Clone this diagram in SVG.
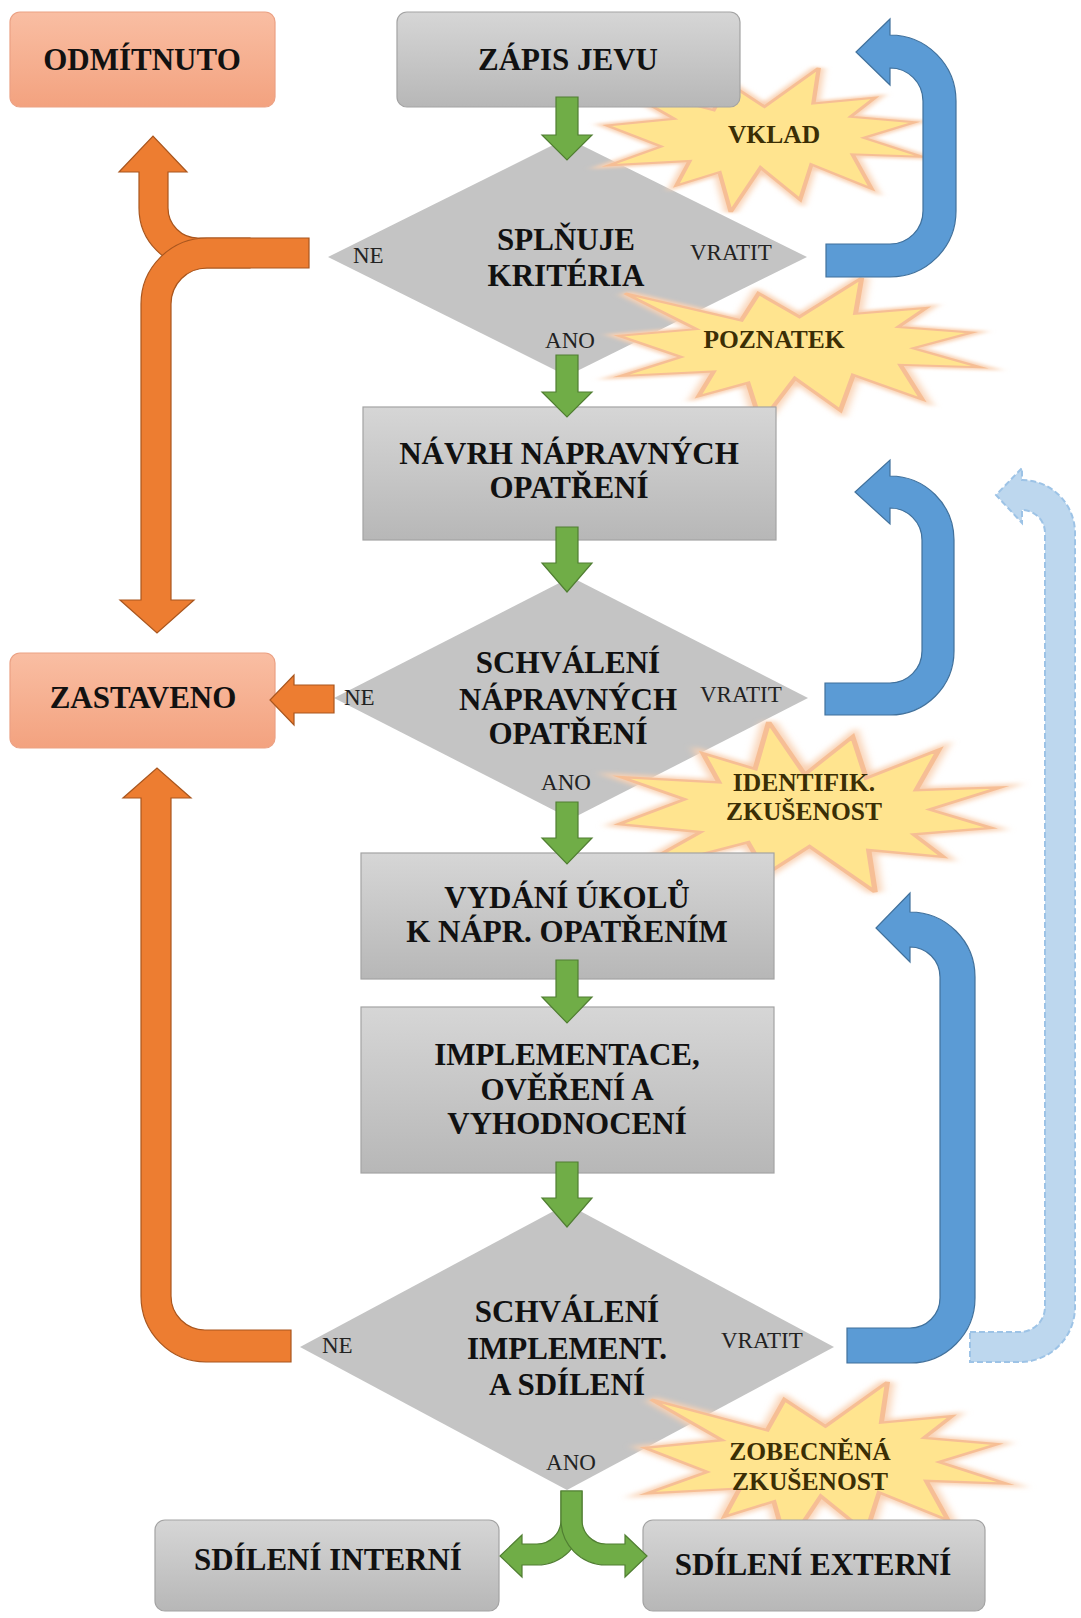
<svg xmlns="http://www.w3.org/2000/svg" xmlns:xlink="http://www.w3.org/1999/xlink" width="1081" height="1618" viewBox="0 0 1081 1618">
<defs>
<style>
.box{fill:url(#gGray);stroke:#A3A3A3;stroke-width:1.2}
.rbox{fill:url(#gSalmon);stroke:#EBA184;stroke-width:1.2}
.dia{fill:#C4C4C4}
text{font-family:'Liberation Serif',Tinos,'Times New Roman','DejaVu Serif','Noto Serif',serif}
.t{font-weight:bold;font-size:31px;fill:#111;text-anchor:middle}
.lab{font-size:23px;fill:#222}
.st{font-weight:bold;font-size:25.5px;fill:#3B2E05;text-anchor:middle}
.seal{fill:#FFE48F;stroke:#F6BE95;stroke-width:3;vector-effect:non-scaling-stroke}
.sealglow{fill:none;stroke:#F9D2B4;stroke-width:8;vector-effect:non-scaling-stroke;filter:url(#blur)}
.green{fill:#70AD47;stroke:#507E32;stroke-width:1.2}
.orange{fill:#ED7D31;stroke:#A9561E;stroke-width:1.2}
.blue{fill:#5B9BD5;stroke:#41719C;stroke-width:1.2}
.lblue{fill:#BDD7EE;stroke:#9DC3E6;stroke-width:2;stroke-dasharray:6 3}
</style>
<linearGradient id="gGray" x1="0" y1="0" x2="0" y2="1">
<stop offset="0" stop-color="#D6D6D6"/><stop offset="1" stop-color="#B7B7B7"/>
</linearGradient>
<linearGradient id="gSalmon" x1="0" y1="0" x2="0" y2="1">
<stop offset="0" stop-color="#F9BEA3"/><stop offset="1" stop-color="#F3A27F"/>
</linearGradient>
<filter id="blur" x="-20%" y="-20%" width="140%" height="140%"><feGaussianBlur stdDeviation="2.5"/></filter>
<path id="seal" d="M108 58 L145.22 0 L141.55 53.25 L183.8 44.57 L167.02 73.15 L210.97 81.37 L176.07 104.75 L216 132.9 L168.37 129.42 L181.45 180.95 L140.2 144.57 L132.47 197.37 L105.32 149.35 L84.85 216 L77.15 156.27 L47.62 176.17 L56.67 139.37 L1.35 145.87 L37.22 117.75 L0 86.15 L46.27 76.17 L3.7 22.95 L73.12 63.2 L83.52 22.95 Z"/>
</defs>
<rect width="1081" height="1618" fill="#FFFFFF"/>

<!-- decisions -->
<g id="node-splnuje-kriteria">
<polygon class="dia" points="567,138 807,257 567,376 328,257"/>
<text class="t" x="566" y="250">SPLŇUJE</text>
<text class="t" x="566" y="286">KRITÉRIA</text>
<text class="lab" x="353" y="263">NE</text>
<text class="lab" x="690" y="260">VRATIT</text>
<text class="lab" x="570" y="348" text-anchor="middle">ANO</text>
</g>
<g id="node-schvaleni-napravnych">
<polygon class="dia" points="571,577 808,698 571,819 334,698"/>
<text class="t" x="568" y="673">SCHVÁLENÍ</text>
<text class="t" x="568" y="710">NÁPRAVNÝCH</text>
<text class="t" x="568" y="744">OPATŘENÍ</text>
<text class="lab" x="344" y="705">NE</text>
<text class="lab" x="700" y="702">VRATIT</text>
<text class="lab" x="566" y="790" text-anchor="middle">ANO</text>
</g>
<g id="node-schvaleni-implement">
<polygon class="dia" points="567,1204 834,1347 567,1490 300,1347"/>
<text class="t" x="567" y="1322">SCHVÁLENÍ</text>
<text class="t" x="567" y="1359">IMPLEMENT.</text>
<text class="t" x="567" y="1395">A SDÍLENÍ</text>
<text class="lab" x="322" y="1353">NE</text>
<text class="lab" x="721" y="1348">VRATIT</text>
<text class="lab" x="571" y="1470" text-anchor="middle">ANO</text>
</g>

<!-- stars -->
<g id="star-vklad">
<use xlink:href="#seal" class="sealglow" transform="translate(607 68) scale(1.458 0.667)"/>
<use xlink:href="#seal" class="seal" transform="translate(607 68) scale(1.458 0.667)"/>
<text class="st" x="774" y="143">VKLAD</text>
</g>
<g id="star-poznatek">
<use xlink:href="#seal" class="sealglow" transform="translate(619 278) scale(1.671 0.671)"/>
<use xlink:href="#seal" class="seal" transform="translate(619 278) scale(1.671 0.671)"/>
<text class="st" x="774" y="348">POZNATEK</text>
</g>
<g id="star-identifik">
<use xlink:href="#seal" class="sealglow" transform="translate(619 892) scale(1.764 -0.787)"/>
<use xlink:href="#seal" class="seal" transform="translate(619 892) scale(1.764 -0.787)"/>
<text class="st" x="804" y="791">IDENTIFIK.</text>
<text class="st" x="804" y="820">ZKUŠENOST</text>
</g>
<g id="star-zobecnena">
<use xlink:href="#seal" class="sealglow" transform="translate(645 1382) scale(1.67 0.764)"/>
<use xlink:href="#seal" class="seal" transform="translate(645 1382) scale(1.67 0.764)"/>
<text class="st" x="810" y="1460">ZOBECNĚNÁ</text>
<text class="st" x="810" y="1490">ZKUŠENOST</text>
</g>

<!-- boxes -->
<g id="node-odmitnuto">
<rect class="rbox" x="10" y="12" width="265" height="95" rx="10"/>
<text class="t" x="142" y="70">ODMÍTNUTO</text>
</g>
<g id="node-zapis-jevu">
<rect class="box" x="397" y="12" width="343" height="95" rx="10"/>
<text class="t" x="568" y="70">ZÁPIS JEVU</text>
</g>
<g id="node-navrh">
<rect class="box" x="363" y="407" width="413" height="133"/>
<text class="t" x="569" y="464">NÁVRH NÁPRAVNÝCH</text>
<text class="t" x="569" y="498">OPATŘENÍ</text>
</g>
<g id="node-zastaveno">
<rect class="rbox" x="10" y="653" width="265" height="95" rx="10"/>
<text class="t" x="143" y="708">ZASTAVENO</text>
</g>
<g id="node-vydani">
<rect class="box" x="361" y="853" width="413" height="126"/>
<text class="t" x="567" y="908">VYDÁNÍ ÚKOLŮ</text>
<text class="t" x="567" y="942">K NÁPR. OPATŘENÍM</text>
</g>
<g id="node-implementace">
<rect class="box" x="361" y="1007" width="413" height="166"/>
<text class="t" x="567" y="1065">IMPLEMENTACE,</text>
<text class="t" x="567" y="1100">OVĚŘENÍ A</text>
<text class="t" x="567" y="1134">VYHODNOCENÍ</text>
</g>
<g id="node-sdileni-interni">
<rect class="box" x="155" y="1520" width="344" height="91" rx="10"/>
<text class="t" x="328" y="1570">SDÍLENÍ INTERNÍ</text>
</g>
<g id="node-sdileni-externi">
<rect class="box" x="643" y="1520" width="342" height="91" rx="10"/>
<text class="t" x="813" y="1575">SDÍLENÍ EXTERNÍ</text>
</g>

<!-- connectors -->
<g id="connectors">
<path class="green" d="M556 97 L578 97 L578 135 L592 135 L567 160 L542 135 L556 135 Z"/>
<path class="green" d="M556 355 L578 355 L578 392 L592 392 L567 417 L542 392 L556 392 Z"/>
<path class="green" d="M556 527 L578 527 L578 563 L592 563 L567 592 L542 563 L556 563 Z"/>
<path class="green" d="M556 802 L578 802 L578 838 L592 838 L567 864 L542 838 L556 838 Z"/>
<path class="green" d="M556 960 L578 960 L578 997 L592 997 L567 1023 L542 997 L556 997 Z"/>
<path class="green" d="M556 1162 L578 1162 L578 1198 L592 1198 L567 1227 L542 1198 L556 1198 Z"/>
<path class="green" d="M582 1491 L561 1491 L561 1520 A24 24 0 0 1 537 1544 L522 1544 L522 1535 L500 1556 L522 1577 L522 1565 L537 1565 A45 45 0 0 0 582 1520 Z"/>
<path class="green" d="M561 1491 L582 1491 L582 1520 A24 24 0 0 0 606 1544 L625 1544 L625 1535 L647 1556 L625 1577 L625 1565 L606 1565 A45 45 0 0 1 561 1520 Z"/>

<path class="orange" d="M250 238 L198 238 A30 30 0 0 1 168 208 L168 172 L187 172 L153 136 L119 172 L139 172 L139 208 A60 60 0 0 0 199 268 L250 268 Z"/>
<path class="orange" d="M309 238 L207 238 A66 66 0 0 0 141 304 L141 600 L120 600 L157 633 L194 600 L171 600 L171 304 A36 36 0 0 1 207 268 L309 268 Z"/>
<path class="orange" d="M334 685 L294 685 L294 675 L270 700 L294 725 L294 713 L334 713 Z"/>
<path class="orange" d="M291 1330 L205 1330 A34 34 0 0 1 171 1296 L171 798 L191 798 L157 768 L123 798 L141 798 L141 1296 A65 66 0 0 0 206 1362 L291 1362 Z"/>

<path class="blue" d="M826 244 L890 244 A33 33 0 0 0 923 211 L923 101 A33 33 0 0 0 890 68 L890 85 L856 52 L890 19 L890 35 A66 66 0 0 1 956 101 L956 211 A66 66 0 0 1 890 277 L826 277 Z"/>
<path class="blue" d="M825 683 L890 683 A32 32 0 0 0 922 651 L922 540 A32 32 0 0 0 890 508 L890 524 L855 492 L890 460 L890 476 A64 64 0 0 1 954 540 L954 651 A64 64 0 0 1 890 715 L825 715 Z"/>
<path class="blue" d="M847 1328 L910 1328 A30 30 0 0 0 940 1298 L940 977 A30 30 0 0 0 910 947 L910 962 L876 928 L910 893 L910 912 A65 65 0 0 1 975 977 L975 1298 A65 65 0 0 1 910 1363 L847 1363 Z"/>
<path class="lblue" d="M970 1332 L1020 1332 A25 25 0 0 0 1045 1307 L1045 533 A23 23 0 0 0 1022 510 L1022 523 L996 495 L1022 468 L1022 480 A53 53 0 0 1 1075 533 L1075 1307 A55 55 0 0 1 1020 1362 L970 1362 Z"/>
</g>
</svg>
